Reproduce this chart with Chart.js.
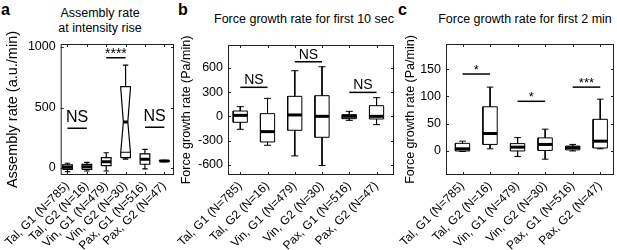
<!DOCTYPE html>
<html>
<head>
<meta charset="utf-8">
<script src="https://cdn.jsdelivr.net/npm/chart.js@4.4.0/dist/chart.umd.min.js"></script>
<style>
  body { margin: 0; width: 617px; height: 250px; position: relative; overflow: hidden; background: #fff;
         font-family: "Liberation Sans", Arial, sans-serif; color: #000; }
  canvas { position: absolute; top: 0; }
  .title { position: absolute; font-size: 12.5px; line-height: 15px; text-align: center; white-space: nowrap; }
  .letter { position: absolute; font-size: 16px; line-height: 16px; font-weight: bold; }
</style>
</head>
<body>
<div class="letter" style="left:1px;top:2px">a</div>
<div class="letter" style="left:178px;top:2px">b</div>
<div class="letter" style="left:398px;top:2px">c</div>
<div class="title" style="left:0;width:200px;top:6px">Assembly rate<br>at intensity rise</div>
<div class="title" style="left:204px;width:200px;top:12px">Force growth rate for first 10 sec</div>
<div class="title" style="left:435px;width:180px;top:12px">Force growth rate for first 2 min</div>

<canvas id="chartA" width="200" height="250" style="left:0"></canvas>
<canvas id="chartB" width="260" height="250" style="left:150px"></canvas>
<canvas id="chartC" width="247" height="250" style="left:370px"></canvas>

<script>
const groups = ["Tal, G1 (N=785)", "Tal, G2 (N=16)", "Vin, G1 (N=479)",
                "Vin, G2 (N=30)", "Pax, G1 (N=516)", "Pax, G2 (N=47)"];

// a: assembly rate at intensity rise (a.u./min)
const aWhiskerLow  = [-30, -25, -25, 74, -8, 52];
const aQ1          = [-11, -11, 19, 85, 31, 55];
const aMedian      = [6, 10, 52, 380, 72, 58];
const aQ3          = [25, 30, 85, 672, 116, 61];
const aWhiskerHigh = [39, 47, 126, 851, 154, 64];
const aNotchLow    = [null, null, null, 130, null, null];
const aNotchHigh   = [null, null, null, 659, null, null];
const aYTicks      = [0, 500, 1000];
const aSigFrom     = [0, 2, 4];
const aSigTo       = [1, 3, 5];
const aSigY        = [328, 912, 336];
const aSigText     = ["NS", "****", "NS"];

// b: force growth rate, first 10 sec (Pa/min)
const bWhiskerLow  = [-161, -359, -491, -611, -50, -103];
const bQ1          = [-74, -318, -173, -260, -29, -33];
const bMedian      = [12, -190, 17, 0, 0, 0];
const bQ3          = [66, 33, 248, 256, 21, 132];
const bWhiskerHigh = [120, 223, 566, 615, 62, 231];
const bYTicks      = [-600, -300, 0, 300, 600];
const bSigFrom     = [0, 2, 4];
const bSigTo       = [1, 3, 5];
const bSigY        = [360, 677, 297];
const bSigText     = ["NS", "NS", "NS"];

// c: force growth rate, first 2 min (Pa/min)
const cWhiskerLow  = [-1, 4, -10, -15, 0, 4];
const cQ1          = [0, 12, 0, 1, 2, 5.5];
const cMedian      = [4, 32, 7, 12, 6, 18];
const cQ3          = [14, 81, 13.5, 24, 9, 58];
const cWhiskerHigh = [18, 117, 24.5, 40, 12, 95];
const cYTicks      = [0, 50, 100, 150];
const cSigFrom     = [0, 2, 4];
const cSigTo       = [1, 3, 5];
const cSigY        = [141, 91, 117];
const cSigText     = ["*", "*", "***"];

Chart.defaults.font.family = '"Liberation Sans", Arial, sans-serif';
Chart.defaults.color = '#000';

const gap = (x) => ({ x: x, y: null });

// outline of one box: caps, whiskers and the (optionally notched) box
function boxOutline(i, lo, q1, med, q3, hi, nLo, nHi, st) {
  const w = st.halfW, c = st.capW, n = st.notchW;
  const pts = [
    { x: i - c, y: hi }, { x: i + c, y: hi }, gap(i),
    { x: i, y: hi }, { x: i, y: q3 }, gap(i)
  ];
  if (nLo == null) {
    pts.push({ x: i - w, y: q1 }, { x: i + w, y: q1 }, { x: i + w, y: q3 },
             { x: i - w, y: q3 }, { x: i - w, y: q1 });
  } else {
    pts.push({ x: i - w, y: q1 }, { x: i + w, y: q1 }, { x: i + w, y: nLo },
             { x: i + n, y: med }, { x: i + w, y: nHi }, { x: i + w, y: q3 },
             { x: i - w, y: q3 }, { x: i - w, y: nHi }, { x: i - n, y: med },
             { x: i - w, y: nLo }, { x: i - w, y: q1 }, gap(i),
             { x: i - w, y: nLo }, { x: i + w, y: nLo });
  }
  pts.push(gap(i), { x: i, y: q1 }, { x: i, y: lo }, gap(i),
           { x: i - c, y: lo }, { x: i + c, y: lo });
  return pts;
}

function lineSet(data, width) {
  return { data: data, borderColor: '#000', borderWidth: width, pointRadius: 0,
           fill: false, tension: 0, spanGaps: false, borderCapStyle: 'butt' };
}

// frame, inward tick marks and significance labels
function framePlugin(st) {
  return {
    id: 'frame',
    afterDatasetsDraw(chart) {
      const { ctx, chartArea: a, scales: { x, y } } = chart;
      ctx.save();
      ctx.strokeStyle = '#222';
      ctx.lineWidth = 1;
      ctx.strokeRect(a.left + 0.5, a.top + 0.5, a.width - 1, a.height - 1);
      ctx.beginPath();
      x.ticks.forEach(t => {
        const px = Math.round(x.getPixelForValue(t.value)) + 0.5;
        ctx.moveTo(px, a.bottom); ctx.lineTo(px, a.bottom - 3);
        ctx.moveTo(px, a.top); ctx.lineTo(px, a.top + 3);
      });
      y.ticks.forEach(t => {
        const py = Math.round(y.getPixelForValue(t.value)) + 0.5;
        ctx.moveTo(a.left, py); ctx.lineTo(a.left + 3, py);
        ctx.moveTo(a.right, py); ctx.lineTo(a.right - 3, py);
      });
      ctx.stroke();

      ctx.fillStyle = '#000';
      ctx.textAlign = 'center';
      ctx.textBaseline = 'alphabetic';
      st.sigText.forEach((txt, k) => {
        const mid = (x.getPixelForValue(st.sigFrom[k]) + x.getPixelForValue(st.sigTo[k])) / 2;
        const stars = txt.indexOf('*') >= 0;
        ctx.font = (stars ? st.starSize : st.nsSize) + 'px "Liberation Sans", Arial, sans-serif';
        ctx.fillText(txt, mid, y.getPixelForValue(st.sigY[k]) - (stars ? st.starOffset : st.nsOffset));
      });
      ctx.restore();
    }
  };
}

function makePanel(st) {
  const datasets = [];
  groups.forEach((g, i) => {
    const nLo = st.notchLow ? st.notchLow[i] : null;
    const nHi = st.notchHigh ? st.notchHigh[i] : null;
    datasets.push(lineSet(boxOutline(i, st.lo[i], st.q1[i], st.med[i], st.q3[i], st.hi[i], nLo, nHi, st), st.lineW));
    const mw = nLo == null ? st.halfW : st.notchW;
    datasets.push(lineSet([{ x: i - mw, y: st.med[i] }, { x: i + mw, y: st.med[i] }], 3));
  });
  st.sigFrom.forEach((f, k) => {
    datasets.push(lineSet([{ x: f, y: st.sigY[k] }, { x: st.sigTo[k], y: st.sigY[k] }], 1.5));
  });

  new Chart(document.getElementById(st.id), {
    type: 'line',
    data: { datasets: datasets },
    options: {
      responsive: false,
      animation: false,
      devicePixelRatio: 1,
      layout: { autoPadding: false, padding: { left: 0, right: st.padRight, top: st.plotTop, bottom: 0 } },
      plugins: { legend: { display: false }, tooltip: { enabled: false } },
      scales: {
        x: {
          type: 'linear', min: st.xMin, max: st.xMax,
          grid: { display: false, drawTicks: false }, border: { display: false },
          afterBuildTicks: s => { s.ticks = groups.map((g, i) => ({ value: i })); },
          afterFit: s => { s.height = 250 - st.plotBottom; },
          ticks: { autoSkip: false, minRotation: 45, maxRotation: 45, padding: 4,
                   font: { size: 12 }, callback: v => groups[v] }
        },
        y: {
          type: 'linear', min: st.yMin, max: st.yMax,
          grid: { display: false, drawTicks: false }, border: { display: false },
          afterBuildTicks: s => { s.ticks = st.yTicks.map(v => ({ value: v })); },
          afterFit: s => { s.width = st.yWidth; },
          ticks: { padding: 5, font: { size: 12.5 }, callback: v => String(v) },
          title: { display: true, text: st.yTitle, font: { size: st.yTitleSize },
                   padding: { top: st.yTitlePad, bottom: 0 } }
        }
      }
    },
    plugins: [framePlugin(st)]
  });
}

makePanel({
  id: 'chartA', lo: aWhiskerLow, q1: aQ1, med: aMedian, q3: aQ3, hi: aWhiskerHigh,
  notchLow: aNotchLow, notchHigh: aNotchHigh, yTicks: aYTicks,
  sigFrom: aSigFrom, sigTo: aSigTo, sigY: aSigY, sigText: aSigText,
  yTitle: 'Assembly rate (a.u./min)', yTitleSize: 14.5, yTitlePad: 0,
  yWidth: 56, padRight: 26, plotTop: 44, plotBottom: 175,
  xMin: -0.35, xMax: 5.5, yMin: -58, yMax: 1025,
  halfW: 0.25, capW: 0.14, notchW: 0.115, lineW: 1.2,
  nsSize: 16, nsOffset: 6, starSize: 14, starOffset: 0
});

makePanel({
  id: 'chartB', lo: bWhiskerLow, q1: bQ1, med: bMedian, q3: bQ3, hi: bWhiskerHigh,
  yTicks: bYTicks, sigFrom: bSigFrom, sigTo: bSigTo, sigY: bSigY, sigText: bSigText,
  yTitle: 'Force growth rate (Pa/min)', yTitleSize: 12.5, yTitlePad: 29,
  yWidth: 78, padRight: 16, plotTop: 45, plotBottom: 175,
  xMin: -0.45, xMax: 5.64, yMin: -728, yMax: 885,
  halfW: 0.26, capW: 0.13, notchW: 0.1, lineW: 1,
  nsSize: 14, nsOffset: 3, starSize: 12, starOffset: 0
});

makePanel({
  id: 'chartC', lo: cWhiskerLow, q1: cQ1, med: cMedian, q3: cQ3, hi: cWhiskerHigh,
  yTicks: cYTicks, sigFrom: cSigFrom, sigTo: cSigTo, sigY: cSigY, sigText: cSigText,
  yTitle: 'Force growth rate (Pa/min)', yTitleSize: 12.5, yTitlePad: 33,
  yWidth: 76, padRight: 3, plotTop: 44, plotBottom: 175,
  xMin: -0.6, xMax: 5.5, yMin: -44, yMax: 196,
  halfW: 0.26, capW: 0.12, notchW: 0.1, lineW: 1,
  nsSize: 14, nsOffset: 3, starSize: 13, starOffset: 0
});
</script>
</body>
</html>
